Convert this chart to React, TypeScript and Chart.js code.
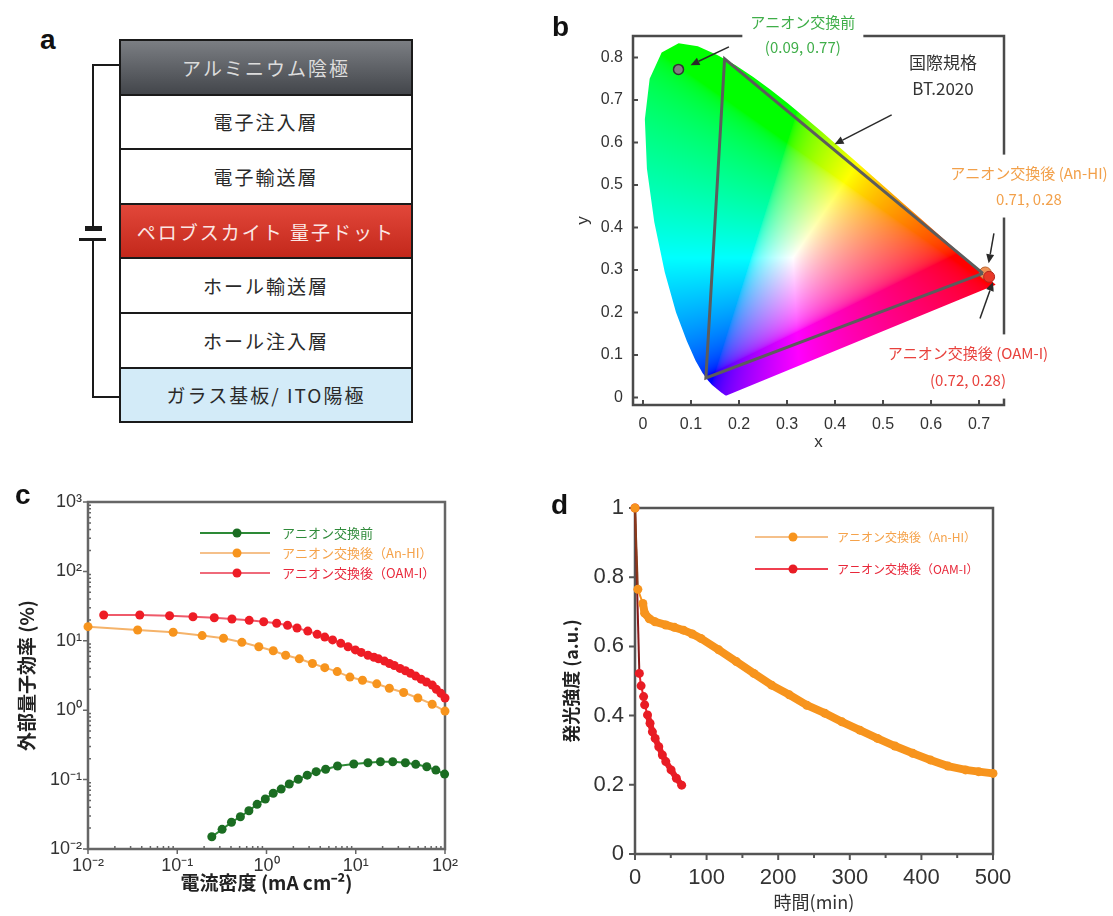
import React, { useEffect, useRef } from "react";
import { Chart, registerables } from "chart.js";

Chart.register(...registerables);

const LAT = '"Liberation Sans", "Noto Sans CJK JP", Arial, sans-serif';
const JP = '"Noto Sans CJK JP", "Liberation Sans", sans-serif';
Chart.defaults.font.family = LAT;

// ---------------- Panel a : device stack ----------------
const layerNames = [
  "アルミニウム陰極",
  "電子注入層",
  "電子輸送層",
  "ペロブスカイト 量子ドット",
  "ホール輸送層",
  "ホール注入層",
  "ガラス基板/ ITO陽極",
];

// ---------------- Panel b : CIE 1931 chromaticity ----------------
const locusX = [
  0.1741, 0.174, 0.1738, 0.1736, 0.1733, 0.173, 0.1726, 0.1721, 0.1714, 0.1703, 0.1689, 0.1669, 0.1644, 0.1611,
  0.1566, 0.151, 0.144, 0.1355, 0.1241, 0.1096, 0.0913, 0.0687, 0.0454, 0.0235, 0.0082, 0.0039, 0.0139, 0.0389,
  0.0743, 0.1142, 0.1547, 0.1929, 0.2296, 0.2658, 0.3016, 0.3373, 0.3731, 0.4087, 0.4441, 0.4788, 0.5125, 0.5448,
  0.5752, 0.6029, 0.627, 0.6482, 0.6658, 0.6801, 0.6915, 0.7006, 0.7079, 0.714, 0.719, 0.723, 0.726, 0.7283, 0.73,
  0.7311, 0.732, 0.7334, 0.7347,
];
const locusY = [
  0.005, 0.005, 0.0049, 0.0049, 0.0048, 0.0048, 0.0048, 0.0048, 0.0051, 0.0058, 0.0069, 0.0086, 0.0109, 0.0138,
  0.0177, 0.0227, 0.0297, 0.0399, 0.0578, 0.0868, 0.1327, 0.2007, 0.295, 0.4127, 0.5384, 0.6548, 0.7502, 0.812,
  0.8338, 0.8262, 0.8059, 0.7816, 0.7543, 0.7243, 0.6923, 0.6589, 0.6245, 0.5896, 0.5547, 0.5202, 0.4866, 0.4544,
  0.4242, 0.3965, 0.3725, 0.3514, 0.334, 0.3197, 0.3083, 0.2993, 0.292, 0.2859, 0.2809, 0.277, 0.274, 0.2717, 0.27,
  0.2689, 0.268, 0.2666, 0.2653,
];
const bt2020X = [0.708, 0.17, 0.131, 0.708];
const bt2020Y = [0.292, 0.797, 0.046, 0.292];
const cieNames = ["アニオン交換前", "アニオン交換後 (An-HI)", "アニオン交換後 (OAM-I)"];
const cieX = [0.074, 0.713, 0.721];
const cieY = [0.772, 0.293, 0.284];
const cieXTicks = [0, 0.1, 0.2, 0.3, 0.4, 0.5, 0.6, 0.7];
const cieXTickLabels = ["0", "0.1", "0.2", "0.3", "0.4", "0.5", "0.6", "0.7"];
const cieYTicks = [0, 0.1, 0.2, 0.3, 0.4, 0.5, 0.6, 0.7, 0.8];
const cieYTickLabels = ["0", "0.1", "0.2", "0.3", "0.4", "0.5", "0.6", "0.7", "0.8"];

// ---------------- Panel c : EQE vs current density ----------------
const seriesNames = ["アニオン交換前", "アニオン交換後（An-HI）", "アニオン交換後（OAM-I）"];
const currentBefore = [0.244, 0.318, 0.405, 0.51, 0.635, 0.785, 0.97, 1.19, 1.46, 1.8, 2.27, 2.86, 3.6, 4.6, 6.25, 9.5, 13.7, 18.9, 26, 36, 47, 62.5, 79, 99];
const eqeBefore = [0.015, 0.0192, 0.0243, 0.0292, 0.0356, 0.044, 0.0525, 0.0635, 0.073, 0.0865, 0.101, 0.116, 0.13, 0.141, 0.157, 0.168, 0.175, 0.181, 0.181, 0.175, 0.166, 0.153, 0.137, 0.12];
const currentAnHI = [0.01, 0.036, 0.09, 0.19, 0.33, 0.53, 0.82, 1.19, 1.64, 2.33, 3.27, 4.5, 6.2, 8.6, 11.9, 17.2, 23.8, 34.4, 49.7, 71.8, 100];
const eqeAnHI = [16.0, 14.3, 13.3, 11.9, 10.9, 9.5, 8.2, 7.2, 6.2, 5.5, 4.7, 4.1, 3.6, 3.0, 2.7, 2.4, 2.07, 1.8, 1.5, 1.22, 0.97];
const currentOAM = [0.015, 0.038, 0.082, 0.15, 0.26, 0.41, 0.64, 0.93, 1.3, 1.72, 2.2, 2.9, 3.7, 4.5, 5.5, 6.8, 8.2, 9.9, 11.5, 13.7, 16, 18, 21, 23.8, 27, 31.3, 36, 41, 47, 54, 62, 72, 80, 90, 100];
const eqeOAM = [23.5, 23.5, 23, 22.2, 21.5, 20.6, 19.7, 18.8, 17.9, 16.7, 15.3, 13.8, 12.4, 11.3, 10.3, 9.2, 8.2, 7.4, 6.8, 6.2, 5.8, 5.5, 5.1, 4.7, 4.4, 4.0, 3.7, 3.4, 3.1, 2.8, 2.55, 2.3, 2.0, 1.75, 1.5];
const cXTicks = [0.01, 0.1, 1, 10, 100];
const cXTickLabels = ["10⁻²", "10⁻¹", "10⁰", "10¹", "10²"];
const cYTicks = [0.01, 0.1, 1, 10, 100, 1000];
const cYTickLabels = ["10⁻²", "10⁻¹", "10⁰", "10¹", "10²", "10³"];

// ---------------- Panel d : luminance decay ----------------
const timeAnHI = [0, 4, 11, 13.5, 20, 28, 43, 55, 67.7, 80, 92, 117, 141.6, 166, 190.8, 215.5, 240, 265, 289, 314, 338.7, 363, 388, 412.5, 437, 461.7, 480, 500];
const lumAnHI = [1.0, 0.765, 0.724, 0.696, 0.68, 0.671, 0.662, 0.655, 0.647, 0.636, 0.623, 0.59, 0.556, 0.522, 0.488, 0.46, 0.43, 0.407, 0.382, 0.358, 0.334, 0.312, 0.291, 0.272, 0.254, 0.243, 0.238, 0.233];
const timeOAM = [0, 6.1, 8.5, 12, 13.5, 17.5, 21, 24.3, 28.2, 33.2, 38.2, 43, 50.4, 57.8, 65.2];
const lumOAM = [1.0, 0.522, 0.486, 0.455, 0.431, 0.402, 0.378, 0.353, 0.334, 0.31, 0.286, 0.267, 0.243, 0.219, 0.199];
const dXTicks = [0, 100, 200, 300, 400, 500];
const dXTickLabels = ["0", "100", "200", "300", "400", "500"];
const dXMinor = [50, 150, 250, 350, 450];
const dYTicks = [0, 0.2, 0.4, 0.6, 0.8, 1];
const dYTickLabels = ["0", "0.2", "0.4", "0.6", "0.8", "1"];

// ---------------- helpers ----------------
function xyToRgb(x: number, y: number) {
  const yy = Math.max(y, 1e-3);
  const X = x / yy, Y = 1, Z = (1 - x - yy) / yy;
  let r = 3.2406 * X - 1.5372 * Y - 0.4986 * Z;
  let g = -0.9689 * X + 1.8758 * Y + 0.0415 * Z;
  let b = 0.0557 * X - 0.204 * Y + 1.057 * Z;
  r = Math.max(r, 0); g = Math.max(g, 0); b = Math.max(b, 0);
  const m = Math.max(r, g, b, 1e-6);
  const gam = (c: number) => (c <= 0.0031308 ? 12.92 * c : 1.055 * Math.pow(c, 1 / 2.4) - 0.055);
  return [gam(r / m) * 255, gam(g / m) * 255, gam(b / m) * 255];
}

const cieFillPlugin = {
  id: "cieFill",
  beforeDatasetsDraw(chart: any) {
    const pts = chart.getDatasetMeta(0).data as any[];
    if (!pts.length) return;
    const xs = chart.scales.x, ys = chart.scales.y;
    let x0 = Infinity, x1 = -Infinity, y0 = Infinity, y1 = -Infinity;
    for (const p of pts) {
      x0 = Math.min(x0, p.x); x1 = Math.max(x1, p.x);
      y0 = Math.min(y0, p.y); y1 = Math.max(y1, p.y);
    }
    x0 = Math.floor(x0); y0 = Math.floor(y0);
    const w = Math.ceil(x1) - x0 + 1, h = Math.ceil(y1) - y0 + 1;
    const off = document.createElement("canvas");
    off.width = w; off.height = h;
    const octx = off.getContext("2d")!;
    const img = octx.createImageData(w, h);
    for (let j = 0; j < h; j++) {
      const vy = ys.getValueForPixel(y0 + j + 0.5);
      for (let i = 0; i < w; i++) {
        const vx = xs.getValueForPixel(x0 + i + 0.5);
        const c = xyToRgb(vx, vy);
        const k = (j * w + i) * 4;
        img.data[k] = c[0]; img.data[k + 1] = c[1]; img.data[k + 2] = c[2]; img.data[k + 3] = 255;
      }
    }
    octx.putImageData(img, 0, 0);
    const ctx = chart.ctx;
    ctx.save();
    ctx.beginPath();
    pts.forEach((p, i) => (i ? ctx.lineTo(p.x, p.y) : ctx.moveTo(p.x, p.y)));
    ctx.closePath();
    ctx.clip();
    ctx.drawImage(off, x0, y0);
    ctx.restore();
  },
};

function framePlugin(o: any) {
  return {
    id: "frame",
    beforeDatasetsDraw(chart: any) {
      const { ctx, chartArea: a } = chart;
      const xs = chart.scales.x, ys = chart.scales.y;
      ctx.save();
      ctx.strokeStyle = o.color;
      ctx.lineWidth = o.width;
      ctx.strokeRect(a.left, a.top, a.right - a.left, a.bottom - a.top);
      ctx.lineWidth = o.tickWidth;
      ctx.beginPath();
      const xt = (v: number, len: number) => {
        const p = xs.getPixelForValue(v);
        ctx.moveTo(p, a.bottom); ctx.lineTo(p, a.bottom + len);
      };
      const yt = (v: number, len: number) => {
        const p = ys.getPixelForValue(v);
        ctx.moveTo(a.left, p); ctx.lineTo(a.left + len, p);
      };
      o.xMajor.forEach((v: number) => xt(v, o.xMajorLen));
      (o.xMinor || []).forEach((v: number) => xt(v, o.xMinorLen));
      o.yMajor.forEach((v: number) => yt(v, o.yMajorLen));
      (o.yMinor || []).forEach((v: number) => yt(v, o.yMinorLen));
      ctx.stroke();
      ctx.restore();
    },
  };
}

function legendPlugin(o: any) {
  return {
    id: "inlineLegend",
    afterDatasetsDraw(chart: any) {
      const ctx = chart.ctx;
      ctx.save();
      o.datasets.forEach((di: number, i: number) => {
        const ds = chart.data.datasets[di];
        const y = o.rows[i];
        ctx.strokeStyle = o.lineColors[i];
        ctx.lineWidth = 2;
        ctx.beginPath(); ctx.moveTo(o.x0, y); ctx.lineTo(o.x1, y); ctx.stroke();
        ctx.fillStyle = ds.pointBackgroundColor;
        ctx.beginPath(); ctx.arc(o.mx, y, 4.5, 0, Math.PI * 2); ctx.fill();
        ctx.fillStyle = o.textColors[i];
        ctx.font = o.font;
        ctx.textBaseline = "middle";
        ctx.textAlign = "left";
        ctx.fillText(ds.label, o.tx, y);
      });
      ctx.restore();
    },
  };
}

// annotation layout for panel b (data coordinates)
const bNoteGroups = [
  { x: 0.333, ys: [0.8835, 0.825], lines: [cieNames[0], "(0.09, 0.77)"], color: "#3fae49", size: 15, white: true },
  { x: 0.625, ys: [0.789, 0.728], lines: ["国際規格", "BT.2020"], color: "#333333", size: 17, white: false },
  { x: 0.804, ys: [0.528, 0.467], lines: [cieNames[1], "0.71, 0.28"], color: "#f2a04a", size: 15, white: true },
  { x: 0.677, ys: [0.105, 0.041], lines: [cieNames[2], "(0.72, 0.28)"], color: "#e8413c", size: 15, white: true },
];
const bArrows = [
  { from: [0.179, 0.825], to: [0.099, 0.782] },
  { from: [0.518, 0.665], to: [0.399, 0.596] },
  { from: [0.731, 0.386], to: [0.72, 0.316] },
  { from: [0.702, 0.186], to: [0.729, 0.272] },
];

const bNotesPlugin = {
  id: "bNotes",
  afterDatasetsDraw(chart: any) {
    const ctx = chart.ctx;
    const xs = chart.scales.x, ys = chart.scales.y;
    ctx.save();
    ctx.textAlign = "center";
    ctx.textBaseline = "middle";
    bNoteGroups.forEach((g) => {
      ctx.font = `${g.size}px ${JP}`;
      const cx = xs.getPixelForValue(g.x);
      const py = g.ys.map((v) => ys.getPixelForValue(v));
      if (g.white) {
        const mw = Math.max(...g.lines.map((l) => ctx.measureText(l).width));
        ctx.fillStyle = "#ffffff";
        ctx.fillRect(cx - mw / 2 - 8, py[0] - g.size / 2 - 11, mw + 16, py[py.length - 1] - py[0] + g.size + 22);
      }
      ctx.fillStyle = g.color;
      g.lines.forEach((l, i) => ctx.fillText(l, cx, py[i]));
    });
    ctx.strokeStyle = "#2a2a2a";
    ctx.fillStyle = "#2a2a2a";
    ctx.lineWidth = 1.5;
    bArrows.forEach((a) => {
      const x1 = xs.getPixelForValue(a.from[0]), y1 = ys.getPixelForValue(a.from[1]);
      const x2 = xs.getPixelForValue(a.to[0]), y2 = ys.getPixelForValue(a.to[1]);
      const ang = Math.atan2(y2 - y1, x2 - x1);
      const hl = 9, hw = 4;
      const bx = x2 - hl * Math.cos(ang), by = y2 - hl * Math.sin(ang);
      ctx.beginPath(); ctx.moveTo(x1, y1); ctx.lineTo(bx, by); ctx.stroke();
      ctx.beginPath();
      ctx.moveTo(x2, y2);
      ctx.lineTo(bx + hw * Math.sin(ang), by - hw * Math.cos(ang));
      ctx.lineTo(bx - hw * Math.sin(ang), by + hw * Math.cos(ang));
      ctx.closePath(); ctx.fill();
    });
    ctx.restore();
  },
};

function fixedTicks(values: number[]) {
  return (s: any) => {
    s.ticks = values.map((v) => ({ value: v }));
  };
}

function logMinor(fromExp: number, toExp: number) {
  const out: number[] = [];
  for (let e = fromExp; e < toExp; e++) for (let m = 2; m <= 9; m++) out.push(m * Math.pow(10, e));
  return out;
}

const pts = (xs: number[], ys: number[]) => xs.map((x, i) => ({ x, y: ys[i] }));

// ---------------- chart configs ----------------
function makeB(): any {
  return {
    type: "scatter",
    data: {
      datasets: [
        { label: "spectral locus", data: pts(locusX, locusY), pointRadius: 0, showLine: false },
        { label: "BT.2020", data: pts(bt2020X, bt2020Y), showLine: true, borderColor: "#5c5c5c", borderWidth: 3, pointRadius: 0, clip: false },
        { label: cieNames[2], data: [{ x: cieX[2], y: cieY[2] }], pointRadius: 5.5, pointBackgroundColor: "#e83828", pointBorderColor: "#b3261e", pointBorderWidth: 1, clip: false },
        { label: cieNames[1], data: [{ x: cieX[1], y: cieY[1] }], pointRadius: 6, pointBackgroundColor: "#ef9255", pointBorderColor: "#b8602a", pointBorderWidth: 1, clip: false },
        { label: cieNames[0], data: [{ x: cieX[0], y: cieY[0] }], pointRadius: 5, pointBackgroundColor: "#808080", pointBorderColor: "#333333", pointBorderWidth: 1.5, clip: false },
      ],
    },
    options: {
      responsive: false,
      animation: false,
      events: [],
      layout: { padding: { top: 36, right: 109, left: 0, bottom: 0 } },
      plugins: { legend: { display: false }, tooltip: { enabled: false } },
      scales: {
        x: {
          type: "linear", min: -0.0208, max: 0.752,
          afterBuildTicks: fixedTicks(cieXTicks),
          afterFit: (s: any) => { s.height = 55; },
          grid: { display: false, drawTicks: false }, border: { display: false },
          ticks: { autoSkip: false, maxRotation: 0, padding: 10, color: "#333", font: { size: 16, family: LAT }, callback: (_v: any, i: number) => cieXTickLabels[i] },
          title: { display: true, text: "x", color: "#333", font: { size: 17, family: LAT }, padding: { top: 0, bottom: 7 } },
        },
        y: {
          type: "linear", min: -0.0176, max: 0.8506,
          afterBuildTicks: fixedTicks(cieYTicks),
          afterFit: (s: any) => { s.width = 77; },
          grid: { display: false, drawTicks: false }, border: { display: false },
          ticks: { autoSkip: false, padding: 10, color: "#333", font: { size: 16, family: LAT }, callback: (_v: any, i: number) => cieYTickLabels[i] },
          title: { display: true, text: "y", color: "#333", font: { size: 17, family: LAT }, padding: { top: 17, bottom: 0 } },
        },
      },
    },
    plugins: [
      cieFillPlugin,
      framePlugin({ color: "#4a4a4a", width: 2.5, tickWidth: 2, xMajor: cieXTicks, xMajorLen: -5, yMajor: cieYTicks, yMajorLen: 5 }),
      bNotesPlugin,
    ],
  };
}

function makeC(): any {
  const common = { showLine: true, borderWidth: 2, pointRadius: 4.5, pointBorderWidth: 0, clip: false };
  return {
    type: "scatter",
    data: {
      datasets: [
        { ...common, label: seriesNames[0], data: pts(currentBefore, eqeBefore), borderColor: "#2d8a36", pointBackgroundColor: "#1b6d22" },
        { ...common, label: seriesNames[1], data: pts(currentAnHI, eqeAnHI), borderColor: "#f5b36a", pointBackgroundColor: "#f7941d" },
        { ...common, label: seriesNames[2], data: pts(currentOAM, eqeOAM), borderColor: "#ef5a6a", pointBackgroundColor: "#ee1c25" },
      ],
    },
    options: {
      responsive: false,
      animation: false,
      events: [],
      layout: { padding: { top: 42, right: 111, left: 0, bottom: 0 } },
      plugins: { legend: { display: false }, tooltip: { enabled: false } },
      scales: {
        x: {
          type: "logarithmic", min: 0.01, max: 100,
          afterBuildTicks: fixedTicks(cXTicks),
          afterFit: (s: any) => { s.height = 67; },
          grid: { display: false, drawTicks: false }, border: { display: false },
          ticks: { autoSkip: false, maxRotation: 0, padding: 6, color: "#333", font: { size: 18, family: LAT }, callback: (_v: any, i: number) => cXTickLabels[i] },
          title: { display: true, text: "電流密度 (mA cm⁻²)", color: "#222", font: { size: 19, family: JP, weight: "bold" }, padding: { top: 0, bottom: 22 } },
        },
        y: {
          type: "logarithmic", min: 0.01, max: 1000,
          afterBuildTicks: fixedTicks(cYTicks),
          afterFit: (s: any) => { s.width = 88; },
          grid: { display: false, drawTicks: false }, border: { display: false },
          ticks: { autoSkip: false, padding: 6, color: "#333", font: { size: 18, family: LAT }, callback: (_v: any, i: number) => cYTickLabels[i] },
          title: { display: true, text: "外部量子効率 (%)", color: "#222", font: { size: 19, family: JP, weight: "bold" }, padding: { top: 15, bottom: 0 } },
        },
      },
    },
    plugins: [
      framePlugin({
        color: "#666666", width: 2.5, tickWidth: 1.5,
        xMajor: cXTicks, xMajorLen: 5, xMinor: logMinor(-2, 2), xMinorLen: -3,
        yMajor: cYTicks, yMajorLen: -5, yMinor: logMinor(-2, 3), yMinorLen: 3,
      }),
      legendPlugin({
        datasets: [0, 1, 2], rows: [73, 93, 113], x0: 200, x1: 270, mx: 237, tx: 282,
        font: `13px ${JP}`, textColors: ["#2f8a3a", "#f5a24a", "#e8283a"], lineColors: ["#2d8a36", "#f5c08a", "#ef6a7a"],
      }),
    ],
  };
}

function makeD(): any {
  return {
    type: "scatter",
    data: {
      datasets: [
        {
          label: seriesNames[1], data: pts(timeAnHI, lumAnHI), showLine: true, clip: false,
          borderColor: "#f7941d", borderWidth: 8, pointRadius: 4.5, pointBorderWidth: 0, pointBackgroundColor: "#f7941d",
          segment: {
            borderWidth: (c: any) => (c.p0DataIndex < 2 ? 2 : 8),
            borderColor: (c: any) => (c.p0DataIndex < 1 ? "#8a3a1a" : "#f7941d"),
          },
        },
        {
          label: seriesNames[2], data: pts(timeOAM, lumOAM), showLine: true, clip: false,
          borderColor: "#e8202a", borderWidth: 6, pointRadius: 4.5, pointBorderWidth: 0, pointBackgroundColor: "#e81c24",
          segment: {
            borderWidth: (c: any) => (c.p0DataIndex < 5 ? 2 : 6),
            borderColor: (c: any) => (c.p0DataIndex < 1 ? "#8a1a1a" : "#e8202a"),
          },
        },
      ],
    },
    options: {
      responsive: false,
      animation: false,
      events: [],
      layout: { padding: { top: 48, right: 120, left: 0, bottom: 0 } },
      plugins: { legend: { display: false }, tooltip: { enabled: false } },
      scales: {
        x: {
          type: "linear", min: 0, max: 500,
          afterBuildTicks: fixedTicks(dXTicks),
          afterFit: (s: any) => { s.height = 62; },
          grid: { display: false, drawTicks: false }, border: { display: false },
          ticks: { autoSkip: false, maxRotation: 0, padding: 11, color: "#333", font: { size: 22, family: LAT }, callback: (_v: any, i: number) => dXTickLabels[i] },
          title: { display: true, text: "時間(min)", color: "#333", font: { size: 18, family: JP }, padding: { top: 0, bottom: 3 } },
        },
        y: {
          type: "linear", min: 0, max: 1,
          afterBuildTicks: fixedTicks(dYTicks),
          afterFit: (s: any) => { s.width = 79; },
          grid: { display: false, drawTicks: false }, border: { display: false },
          ticks: { autoSkip: false, padding: 11, color: "#333", font: { size: 22, family: LAT }, callback: (_v: any, i: number) => dYTickLabels[i] },
          title: { display: true, text: "発光強度 (a.u.)", color: "#222", font: { size: 18, family: JP, weight: "bold" }, padding: { top: 4, bottom: 0 } },
        },
      },
    },
    plugins: [
      framePlugin({
        color: "#555555", width: 2.5, tickWidth: 2,
        xMajor: dXTicks, xMajorLen: 6, xMinor: dXMinor, xMinorLen: 4,
        yMajor: dYTicks, yMajorLen: -6,
      }),
      legendPlugin({
        datasets: [0, 1], rows: [77, 109], x0: 199, x1: 272, mx: 237, tx: 281,
        font: `12px ${JP}`, textColors: ["#f5a24a", "#e8283a"], lineColors: ["#f5c08a", "#f04050"],
      }),
    ],
  };
}

function ChartCanvas(props: { make: () => any; left: number; top: number; width: number; height: number }) {
  const ref = useRef<HTMLCanvasElement | null>(null);
  useEffect(() => {
    const chart = new Chart(ref.current as HTMLCanvasElement, props.make());
    return () => chart.destroy();
  }, []);
  return (
    <canvas
      ref={ref}
      width={props.width}
      height={props.height}
      style={{ position: "absolute", left: props.left, top: props.top, width: props.width, height: props.height }}
    />
  );
}

const layerStyles: any[] = [
  { background: "linear-gradient(#7b7e83, #43464b)", color: "#dcdcdc" },
  { background: "#ffffff", color: "#2a2a2a" },
  { background: "#ffffff", color: "#2a2a2a" },
  { background: "linear-gradient(#e2473a, #c3281b)", color: "#fbe6e4" },
  { background: "#ffffff", color: "#2a2a2a" },
  { background: "#ffffff", color: "#2a2a2a" },
  { background: "#d3ebf8", color: "#2a2a2a" },
];

function PanelA() {
  const top0 = 39, step = 54.6;
  const wire = "#1a1a1a";
  return (
    <>
      {layerNames.map((n, i) => (
        <div
          key={n}
          style={{
            position: "absolute", left: 119, top: top0 + i * step, width: 294, height: step + 2,
            boxSizing: "border-box", border: `2px solid ${wire}`, ...layerStyles[i],
            display: "flex", alignItems: "center", justifyContent: "center",
            fontFamily: JP, fontSize: 19, letterSpacing: 2, whiteSpace: "nowrap",
          }}
        >
          {n}
        </div>
      ))}
      <div style={{ position: "absolute", left: 92, top: 64, width: 28, height: 2, background: wire }} />
      <div style={{ position: "absolute", left: 92, top: 396, width: 28, height: 2, background: wire }} />
      <div style={{ position: "absolute", left: 92, top: 64, width: 2, height: 163, background: wire }} />
      <div style={{ position: "absolute", left: 92, top: 240, width: 2, height: 158, background: wire }} />
      <div style={{ position: "absolute", left: 85, top: 226, width: 17, height: 5, background: wire }} />
      <div style={{ position: "absolute", left: 79, top: 238, width: 27, height: 3, background: wire }} />
    </>
  );
}

const panelLetter = (t: string, left: number, top: number) => (
  <div
    style={{
      position: "absolute", left, top, fontFamily: LAT, fontWeight: "bold", fontSize: 28,
      lineHeight: "28px", color: "#111",
    }}
  >
    {t}
  </div>
);

export default function App() {
  return (
    <div style={{ position: "absolute", left: 0, top: 0, width: 1113, height: 916, background: "#fff", overflow: "hidden" }}>
      <PanelA />
      <ChartCanvas make={makeB} left={556} top={0} width={557} height={460} />
      <ChartCanvas make={makeC} left={0} top={460} width={556} height={456} />
      <ChartCanvas make={makeD} left={556} top={460} width={557} height={456} />
      {panelLetter("a", 40, 26)}
      {panelLetter("b", 552, 13)}
      {panelLetter("c", 15, 481)}
      {panelLetter("d", 551, 491)}
    </div>
  );
}
